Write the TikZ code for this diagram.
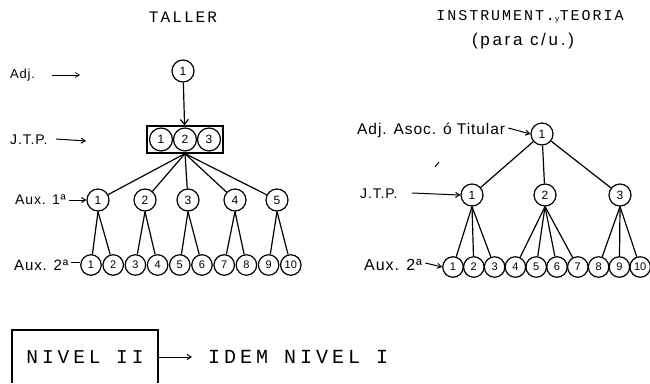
\documentclass[tikz,border=0pt]{standalone}
\usepackage{fontspec}
\setmainfont{Liberation Sans}
\newfontfamily\stencil[LetterSpace=13]{Liberation Mono}
\newfontfamily\stencilwide[LetterSpace=20]{Liberation Mono}
\newfontfamily\hand[LetterSpace=6]{Liberation Sans}
\newfontfamily\handwide[LetterSpace=16]{Liberation Sans}
\usetikzlibrary{arrows.meta}
\begin{document}
\begin{tikzpicture}[x=1pt,y=-1pt,
  nd/.style={circle,draw,line width=1.2pt,minimum size=22pt,inner sep=0pt,font=\fontsize{12}{12}\selectfont},
  sm/.style={circle,draw,line width=1.2pt,minimum size=20.5pt,inner sep=0pt,font=\fontsize{11}{11}\selectfont},
  lbl/.style={font=\hand\fontsize{14}{14}\selectfont,anchor=west,inner sep=0pt},
  con/.style={line width=1.2pt},
  arr/.style={line width=1pt,-{Straight Barb[length=4pt,width=5pt]}},
  ttl/.style={font=\stencil\fontsize{16}{16}\selectfont,inner sep=0pt}]
\useasboundingbox (0,0) rectangle (650,383);

% ---------- TALLER ----------
\node[ttl] (t1) at (183,17) {TALLER};

\node[nd] (L0) at (183,71) {1};
\node[draw,line width=1.2pt,minimum width=76pt,minimum height=27pt,inner sep=0pt] (jbox) at (185,139.5) {};
\node[nd,minimum size=23pt] (j1) at (161,139.5) {1};
\node[nd,minimum size=23pt] (j2) at (185,139.5) {2};
\node[nd,minimum size=23pt] (j3) at (209,139.5) {3};
\draw[con,-{Straight Barb[length=5pt,width=8pt]}] (L0) -- (jbox);

\foreach \i/\x in {1/98,2/145,3/188,4/235,5/277}{
  \node[nd] (a\i) at (\x,200) {\i};
  \draw[con] (jbox.south) -- (a\i);
}
\foreach \i in {1,...,10}{
  \node[sm] (b\i) at ({91+22.2*(\i-1)},265) {\i};
}
\foreach \p/\c in {1/1,1/2,2/3,2/4,3/5,3/6,4/7,4/8,5/9,5/10}{
  \draw[con] (a\p.south) -- (b\c);
}

\node[lbl,font=\hand\fontsize{13}{13}\selectfont] (ladj) at (10,75) {Adj.};
\coordinate (ladjs) at (52,75);
\coordinate (ladje) at (80,75);
\draw[arr,line width=0.7pt] (ladjs) -- (ladje);

\node[lbl,font=\hand\fontsize{14}{14}\selectfont] (ljtp) at (10,140) {J.T.P.};
\coordinate (ljtpe) at (86,141);
\draw[arr] (ljtp.east) ++(8pt,1pt) coordinate (ljtps) (ljtps) -- (ljtpe);

\node[lbl] (laux1) at (15,200) {Aux. 1ª};
\draw[arr] (laux1.east) ++(3pt,0) coordinate (laux1s) (laux1s) -- (a1.west);

\node[lbl,font=\hand\fontsize{15}{15}\selectfont] (laux2) at (14,265) {Aux. 2ª};
\draw[line width=1pt] (laux2.east) ++(2pt,3pt) coordinate (laux2s) (laux2s) -- (b1.west |- laux2s);

% ---------- INSTRUMENT y TEORIA ----------
\node[ttl,font=\stencil\fontsize{15}{15}\selectfont] (t2) at (530,17) {INSTRUMENT.\raisebox{-1pt}{\fontsize{8}{8}\selectfont y}TEORIA};
\node[font=\handwide\fontsize{17}{17}\selectfont,inner sep=0pt] (t3) at (523,41) {(para c/u.)};

\node[nd] (R0) at (542,134) {1};
\foreach \i/\x in {1/472,2/545,3/620}{
  \node[nd] (r\i) at (\x,195) {\i};
  \draw[con] (R0) -- (r\i);
}
\foreach \i in {1,...,10}{
  \node[sm] (s\i) at ({453+20.8*(\i-1)},267) {\i};
}
\foreach \p/\c in {1/1,1/2,1/3,2/4,2/5,2/6,2/7,3/8,3/9,3/10}{
  \draw[con] (r\p.south) -- (s\c);
}

\node[lbl,font=\hand\fontsize{15.5}{15.5}\selectfont] (radj) at (357,130) {Adj. Asoc. ó Titular};
\draw[arr] (radj.east) ++(3pt,2pt) coordinate (radjs) (radjs) -- (R0.west);

\node[lbl] (rjtp) at (360,194) {J.T.P.};
\draw[arr] (rjtp.east) ++(14pt,1pt) coordinate (rjtps) (rjtps) -- (r1.west);

\node[lbl,font=\hand\fontsize{16}{16}\selectfont] (raux2) at (364,265) {Aux. 2ª};
\draw[arr] (raux2.east) ++(3pt,2pt) coordinate (raux2s) (raux2s) -- (s1.west);

\coordinate (mk1) at (435,167);
\coordinate (mk2) at (439,162);
\draw[line width=1pt] (mk1) -- (mk2);

% ---------- NIVEL II ----------
\coordinate (bx1) at (12,383);
\coordinate (bx2) at (12,330);
\coordinate (bx3) at (158,330);
\coordinate (bx4) at (158,383);
\draw[line width=1.1pt] (bx1) -- (bx2) -- (bx3) -- (bx4);
\node[font=\stencilwide\fontsize{19.5}{19.5}\selectfont,inner sep=0pt] (n2) at (85,357) {NIVEL II};
\coordinate (n2r) at (158,357);
\node[font=\stencilwide\fontsize{20}{20}\selectfont,inner sep=0pt,anchor=west] (idem) at (208,357) {IDEM NIVEL I};
\draw[arr] (n2r) -- ([xshift=-16pt]idem.west);
\end{tikzpicture}
\end{document}
